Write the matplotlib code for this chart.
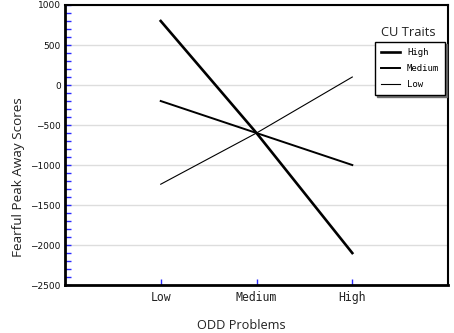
import matplotlib.pyplot as plt
from matplotlib.ticker import MultipleLocator


# ----------------------------------------
# DATA
# ----------------------------------------

odd_levels = ["Low", "Medium", "High"]
odd_pos = [1, 2, 3]

cu_high = [800, -600, -2100]
cu_medium = [-200, -600, -1000]
cu_low = [-1240, -600, 100]

series_names = ["High", "Medium", "Low"]


# ----------------------------------------
# PLOT
# ----------------------------------------

fig = plt.figure(figsize=(4.54, 3.33), dpi=100)

ax = fig.add_axes([0.143, 0.144, 0.844, 0.841])

ax.plot(odd_pos, cu_high, color="black", linewidth=1.9, label=series_names[0])
ax.plot(odd_pos, cu_medium, color="black", linewidth=1.4, label=series_names[1])
ax.plot(odd_pos, cu_low, color="black", linewidth=0.8, label=series_names[2])

ax.set_xlim(0, 4)
ax.set_ylim(-2500, 1000)

ax.set_xticks(odd_pos)
ax.set_xticklabels(odd_levels, family="DejaVu Sans Mono", fontsize=8.3, color="#222222")

ax.yaxis.set_major_locator(MultipleLocator(500))
ax.yaxis.set_minor_locator(MultipleLocator(100))

for lbl in ax.get_yticklabels():
    lbl.set_fontsize(6.5)
    lbl.set_color("#111111")

ax.tick_params(axis="both", which="both", direction="in", color="#2a2aff")
ax.tick_params(axis="y", which="major", length=4, width=1, pad=3)
ax.tick_params(axis="y", which="minor", length=4, width=1)
ax.tick_params(axis="x", which="major", length=4, width=1, pad=4)

ax.grid(axis="y", color="#dddddd", linewidth=1)
ax.set_axisbelow(True)

ax.spines["left"].set_linewidth(2)
ax.spines["bottom"].set_linewidth(2)
ax.spines["top"].set_linewidth(1.5)
ax.spines["right"].set_linewidth(1.5)

ax.set_xlabel("ODD Problems", family="Open Sans", fontsize=9.2, color="#222222")
ax.xaxis.set_label_coords(0.46, -0.12)

ax.set_ylabel("Fearful Peak Away Scores", family="Open Sans", fontsize=9.7, color="#222222")
ax.yaxis.set_label_coords(-0.105, 0.386)

leg = ax.legend(
    loc="upper right",
    bbox_to_anchor=(445 / 454, 1 - 42 / 333),
    bbox_transform=fig.transFigure,
    prop={"family": "DejaVu Sans Mono", "size": 6.5},
    frameon=True,
    fancybox=False,
    shadow={"color": "#666666", "alpha": 0.9, "ox": 1.5, "oy": -1.5},
    handlelength=2.1,
    handletextpad=0.8,
    labelspacing=0.8,
    borderpad=0.65,
    borderaxespad=0,
)
leg.get_frame().set_edgecolor("black")
leg.get_frame().set_linewidth(1)

fig.text(408 / 454, 1 - 32 / 333, "CU Traits", family="Open Sans",
         fontsize=9.3, ha="center", va="center", color="#222222")

plt.savefig("out.png", dpi=100)
